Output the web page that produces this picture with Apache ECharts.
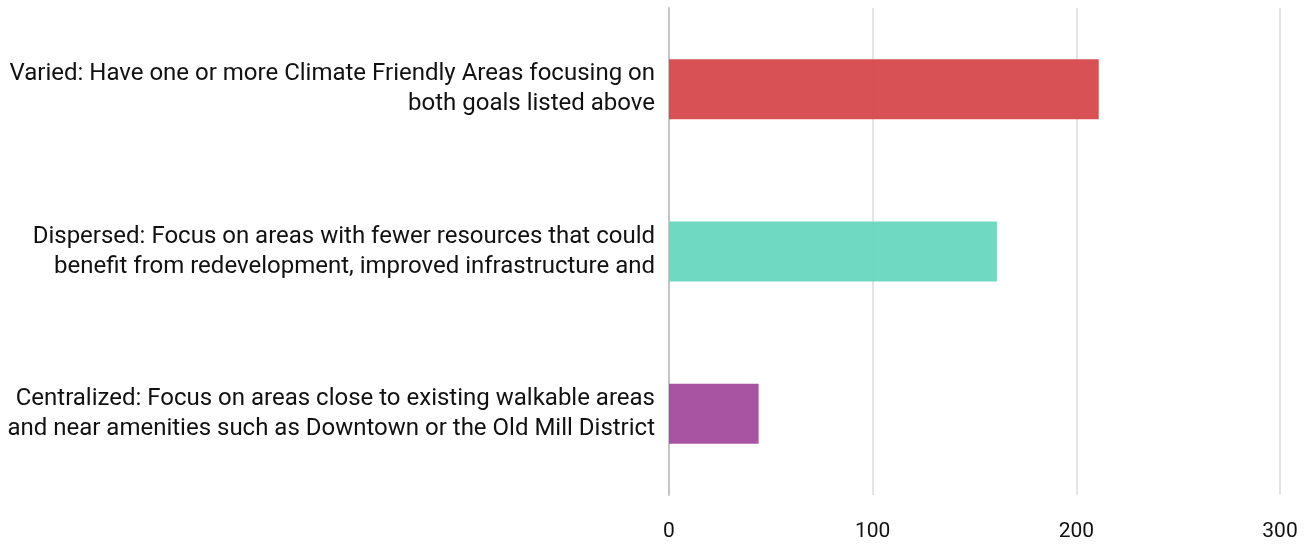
<!DOCTYPE html>
<html>
<head>
<meta charset="utf-8">
<script src="https://cdn.jsdelivr.net/npm/echarts@6/dist/echarts.min.js"></script>
<style>
  html, body { margin: 0; padding: 0; background: #ffffff; }
  #chart { width: 1311px; height: 544px; }
</style>
</head>
<body>
<div id="chart"></div>
<script>
// Survey options, listed bottom to top as drawn on the category axis
const categories = [
  "Centralized: Focus on areas close to existing walkable areas\nand near amenities such as Downtown or the Old Mill District",
  "Dispersed: Focus on areas with fewer resources that could\nbenefit from redevelopment, improved infrastructure and",
  "Varied: Have one or more Climate Friendly Areas focusing on\nboth goals listed above"
];
const responses = [44, 161, 211];
const barColors = ["#a54ea0", "#6bd8c0", "#d64b4f"];
const xTicks = [0, 100, 200, 300];

const FONT = "'Liberation Sans Narrow', 'Roboto', 'Liberation Sans', sans-serif";

const chart = echarts.init(document.getElementById("chart"), null, { renderer: "canvas" });
chart.setOption({
  animation: false,
  grid: { left: 669, right: 31, top: 8, bottom: 49, containLabel: false },
  xAxis: {
    type: "value",
    min: xTicks[0],
    max: xTicks[xTicks.length - 1],
    interval: xTicks[1] - xTicks[0],
    axisLine: { show: false },
    axisTick: { show: false },
    axisLabel: { color: "#111111", fontSize: 21, fontFamily: FONT, margin: 26 },
    splitLine: { show: true, lineStyle: { color: "#dcdcdc", width: 1.5 } }
  },
  yAxis: {
    type: "category",
    data: categories,
    axisLine: { show: true, lineStyle: { color: "#c4c4c4", width: 2 } },
    axisTick: { show: false },
    axisLabel: {
      color: "#111111",
      fontSize: 24,
      fontFamily: FONT,
      lineHeight: 30,
      align: "right",
      margin: 14
    }
  },
  series: [{
    type: "bar",
    barWidth: "37%",
    data: responses.map((v, i) => ({
      value: v,
      itemStyle: { color: barColors[i], opacity: 0.97 }
    }))
  }]
});
</script>
</body>
</html>
